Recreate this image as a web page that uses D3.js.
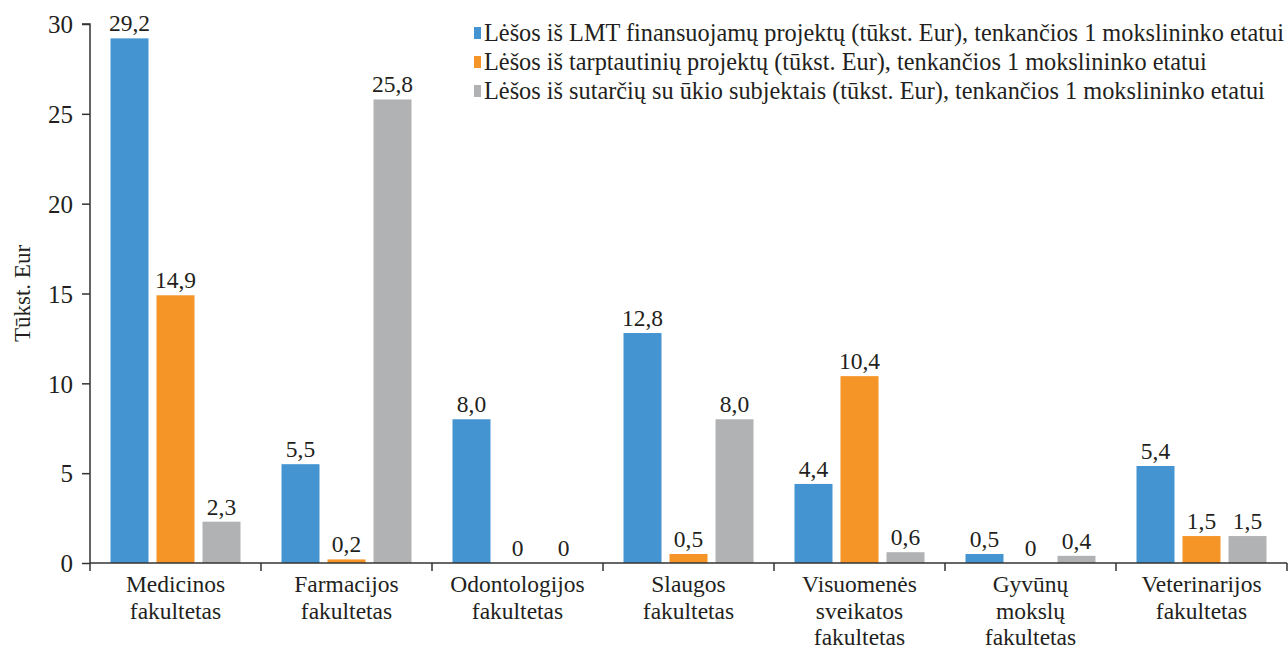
<!DOCTYPE html>
<html>
<head>
<meta charset="utf-8">
<script src="https://cdn.jsdelivr.net/npm/d3@7"></script>
<style>
  body { margin: 0; background: #fff; }
  svg text { font-family: "Liberation Serif", "Times New Roman", serif; fill: #231f20; }
</style>
</head>
<body>
<div id="chart"></div>
<script>
// ---- data ----
const categories = [
  ["Medicinos", "fakultetas"],
  ["Farmacijos", "fakultetas"],
  ["Odontologijos", "fakultetas"],
  ["Slaugos", "fakultetas"],
  ["Visuomenės", "sveikatos", "fakultetas"],
  ["Gyvūnų", "mokslų", "fakultetas"],
  ["Veterinarijos", "fakultetas"]
];
const seriesNames = [
  "Lėšos iš LMT finansuojamų projektų (tūkst. Eur), tenkančios 1 mokslininko etatui",
  "Lėšos iš tarptautinių projektų (tūkst. Eur), tenkančios 1 mokslininko etatui",
  "Lėšos iš sutarčių su ūkio subjektais (tūkst. Eur), tenkančios 1 mokslininko etatui"
];
const lmtValues = [29.2, 5.5, 8.0, 12.8, 4.4, 0.5, 5.4];
const intlValues = [14.9, 0.2, 0, 0.5, 10.4, 0, 1.5];
const businessValues = [2.3, 25.8, 0, 8.0, 0.6, 0.4, 1.5];
const yTicks = [0, 5, 10, 15, 20, 25, 30];
const colors = ["#4494d1", "#f59427", "#b1b2b4"];

const allSeries = [lmtValues, intlValues, businessValues];

// ---- layout ----
const width = 1288, height = 650;
const margin = {top: 24, right: 1, bottom: 87, left: 90};
const innerW = width - margin.left - margin.right;
const innerH = height - margin.top - margin.bottom;

const svg = d3.select("#chart").append("svg")
  .attr("width", width)
  .attr("height", height);

const g = svg.append("g")
  .attr("transform", `translate(${margin.left},${margin.top})`);

const catKeys = categories.map((c, i) => i);

const x0 = d3.scaleBand()
  .domain(catKeys)
  .range([0, innerW])
  .padding(0);

// 3 bars of ~38px with 8px gaps, centred in each category band
const x1 = d3.scaleBand()
  .domain([0, 1, 2])
  .range([20.5, x0.bandwidth() - 20.5])
  .paddingInner(0.174);

const y = d3.scaleLinear()
  .domain([0, 30])
  .range([innerH, 0]);

// ---- bars ----
const groups = g.selectAll("g.cat")
  .data(catKeys)
  .enter().append("g")
  .attr("class", "cat")
  .attr("transform", d => `translate(${x0(d)},0)`);

groups.selectAll("rect")
  .data(ci => allSeries.map((s, si) => ({si, v: s[ci]})))
  .enter().append("rect")
  .attr("x", d => x1(d.si))
  .attr("width", x1.bandwidth())
  .attr("y", d => y(d.v))
  .attr("height", d => innerH - y(d.v))
  .style("fill", d => colors[d.si]);

groups.selectAll("text.val")
  .data(ci => allSeries.map((s, si) => ({si, v: s[ci]})))
  .enter().append("text")
  .attr("class", "val")
  .attr("x", d => x1(d.si) + x1.bandwidth() / 2)
  .attr("y", d => y(d.v) - 7)
  .attr("text-anchor", "middle")
  .style("font-size", "23.5px")
  .text(d => d.v === 0 ? "0" : d3.format(".1f")(d.v).replace(".", ","));

// ---- axes ----
const yAxis = d3.axisLeft(y).tickValues(yTicks).tickSize(8).tickPadding(9);
const yG = g.append("g").call(yAxis);
yG.select(".domain").attr("d", `M-8,${y(30)}H0V${innerH}`);
yG.selectAll("line, path").style("stroke", "#333").style("stroke-width", 1.5);
yG.selectAll("text").style("font-size", "25px").attr("dy", "0.35em")
  .style("font-family", "'Liberation Serif', serif").style("fill", "#231f20");

const xG = g.append("g").attr("transform", `translate(0,${innerH})`);
xG.append("line")
  .attr("x1", 0).attr("x2", innerW)
  .style("stroke", "#333").style("stroke-width", 1.5);
xG.selectAll("line.tick")
  .data(catKeys.concat([catKeys.length]))
  .enter().append("line")
  .attr("class", "tick")
  .attr("x1", d => d < catKeys.length ? x0(d) : innerW)
  .attr("x2", d => d < catKeys.length ? x0(d) : innerW)
  .attr("y1", 0).attr("y2", 8)
  .style("stroke", "#333").style("stroke-width", 1.5);

const catLabels = xG.selectAll("text.cat")
  .data(catKeys)
  .enter().append("text")
  .attr("class", "cat")
  .attr("text-anchor", "middle")
  .attr("x", d => x0(d) + x0.bandwidth() / 2)
  .attr("y", 29)
  .style("font-size", "23.5px");
catLabels.selectAll("tspan")
  .data(d => categories[d])
  .enter().append("tspan")
  .attr("x", function() { return d3.select(this.parentNode).attr("x"); })
  .attr("dy", (d, i) => i === 0 ? 0 : 26.5)
  .text(d => d);

// ---- y title ----
svg.append("text")
  .attr("transform", `translate(22,${margin.top + innerH / 2}) rotate(-90)`)
  .attr("text-anchor", "middle")
  .attr("dy", "0.35em")
  .style("font-size", "23px")
  .text("Tūkst. Eur");

// ---- legend ----
const legend = svg.append("g").attr("transform", "translate(474,32)");
const items = legend.selectAll("g")
  .data(seriesNames)
  .enter().append("g")
  .attr("transform", (d, i) => `translate(0,${i * 29})`);
items.append("rect")
  .attr("x", 0).attr("y", -5)
  .attr("width", 7).attr("height", 12)
  .style("fill", (d, i) => colors[i]);
items.append("text")
  .attr("x", 10)
  .attr("dy", "0.35em")
  .style("font-size", "24.3px")
  .text(d => d);
</script>
</body>
</html>
